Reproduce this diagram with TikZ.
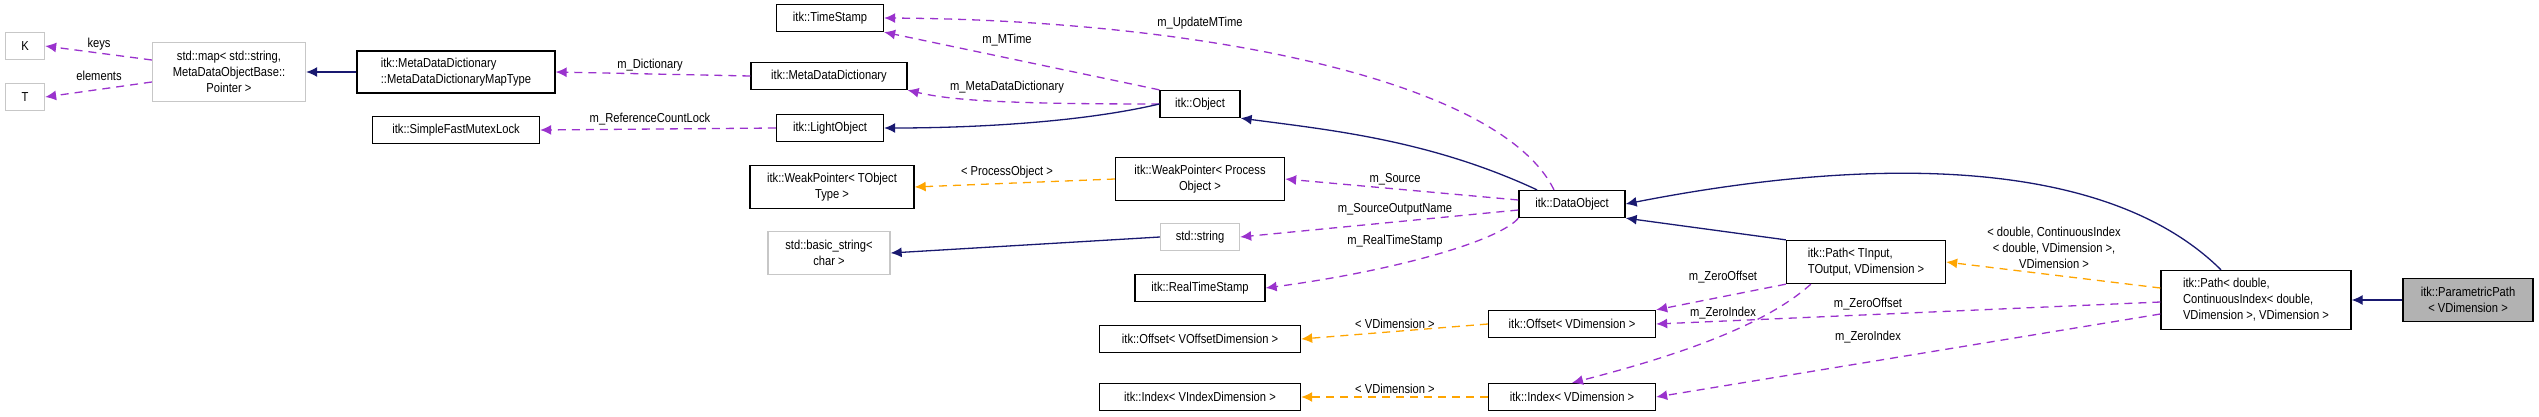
\documentclass[tikz,border=0pt]{standalone}
\usepackage{fontspec}
\setmainfont{Liberation Sans}[FakeStretch=0.86]
\usetikzlibrary{arrows.meta}
\definecolor{navy}{HTML}{191970}
\definecolor{memb}{HTML}{9A32CD}
\definecolor{tmpl}{HTML}{FFA500}
\tikzstyle{cls}=[rectangle, draw=black, line width=1.3pt, fill=white, inner sep=2pt, align=center, font=\fontsize{13}{16}\selectfont, minimum height=27pt]
\tikzstyle{ext}=[cls, draw=black!22]
\tikzstyle{lbl}=[inner sep=0pt, align=center, font=\fontsize{13}{16}\selectfont]
\tikzstyle{inh}=[draw=navy, line width=1.3pt, -{Latex[length=11pt,width=10pt]}]
\tikzstyle{use}=[draw=memb, line width=1.3pt, dashed, dash pattern=on 8pt off 6pt, -{Latex[length=11pt,width=10pt]}]
\tikzstyle{tpl}=[use, draw=tmpl]
\begin{document}
\begin{tikzpicture}[x=1pt, y=-1pt]
	\useasboundingbox (0,0) rectangle (2539,416);

	%The leftmost classes
	\draw (25,46) node[ext, minimum width=39pt] (k) {K};
	\draw (25,97) node[ext, minimum width=39pt] (t) {T};
	\draw (229,72) node[ext, minimum width=153pt, minimum height=59pt] (map) {std::map< std::string,\\ MetaDataObjectBase::\\ Pointer >};
	\draw (456,72) node[cls, minimum width=198pt, minimum height=42pt, align=left] (maptype) {itk::MetaDataDictionary\\ ::MetaDataDictionaryMapType};
	\draw (456,130) node[cls, minimum width=167pt] (mutex) {itk::SimpleFastMutexLock};

	%The second column
	\draw (830,18) node[cls, minimum width=107pt] (stamp) {itk::TimeStamp};
	\draw (829,76) node[cls, minimum width=156pt] (dict) {itk::MetaDataDictionary};
	\draw (830,128) node[cls, minimum width=107pt] (light) {itk::LightObject};
	\draw (832,187) node[cls, minimum width=164pt, minimum height=43pt] (wptr) {itk::WeakPointer< TObject\\ Type >};
	\draw (829,253) node[ext, minimum width=122pt, minimum height=43pt] (bstr) {std::basic\_string<\\ char >};

	%The third column
	\draw (1200,104) node[cls, minimum width=80pt] (obj) {itk::Object};
	\draw (1200,179) node[cls, minimum width=169pt, minimum height=43pt] (wproc) {itk::WeakPointer< Process\\ Object >};
	\draw (1200,237) node[ext, minimum width=79pt] (str) {std::string};
	\draw (1200,288) node[cls, minimum width=130pt] (rstamp) {itk::RealTimeStamp};
	\draw (1200,339) node[cls, minimum width=201pt] (offn) {itk::Offset< VOffsetDimension >};
	\draw (1200,397) node[cls, minimum width=201pt] (idxn) {itk::Index< VIndexDimension >};

	%The fourth column
	\draw (1572,204) node[cls, minimum width=106pt] (data) {itk::DataObject};
	\draw (1572,324) node[cls, minimum width=167pt] (off) {itk::Offset< VDimension >};
	\draw (1572,397) node[cls, minimum width=167pt] (idx) {itk::Index< VDimension >};

	%The paths
	\draw (1866,262) node[cls, minimum width=159pt, minimum height=43pt, align=left] (tpath) {itk::Path< TInput,\\ TOutput, VDimension >};
	\draw (2256,300) node[cls, minimum width=190pt, minimum height=59pt, align=left] (dpath) {itk::Path< double,\\ ContinuousIndex< double,\\ VDimension >, VDimension >};
	\draw (2468,300) node[cls, fill=black!30, minimum width=130pt, minimum height=43pt] (ppath) {itk::ParametricPath\\ < VDimension >};

	%The edges
	\draw[use] (map.west |- 0,60) -- (k.east);
	\draw[use] (map.west |- 0,82) -- (t.east);
	\draw[inh] (maptype) -- (map);
	\draw[use] (dict.west) -- (maptype.east);
	\draw[use] (light.west) -- (mutex.east);
	\draw[use] (obj.north west) -- (stamp.south east);
	\draw[use] (obj.west) .. controls (1000,104) and (950,100) .. (dict.south east);
	\draw[inh] (obj.west) .. controls (1070,125) and (950,128) .. (light.east);
	\draw[use] (data.north) ++(-18,0) coordinate (d1) .. controls (1500,80) and (1200,20) .. (stamp.east);
	\draw[inh] (data.north) ++(-35,0) coordinate (d2) .. controls (1430,140) and (1330,130) .. (obj.south east);
	\draw[use] (data.west) ++(0,-4) coordinate (d3) -- (wproc.east);
	\draw[use] (data.west) ++(0,6) coordinate (d4) -- (str.east);
	\draw[use] (data.south west) .. controls (1500,240) and (1400,270) .. (rstamp.east);
	\draw[tpl] (wproc.west) -- (wptr.east);
	\draw[inh] (str.west) -- (bstr.east);
	\draw[tpl] (off.west) -- (offn.east);
	\draw[tpl] (idx.west) -- (idxn.east);
	\draw[inh] (tpath.north west) -- (data.south east);
	\draw[use] (tpath.south west) -- (off.north east);
	\draw[use] (tpath.south west) ++(25,0) coordinate (t1) .. controls (1760,330) and (1660,360) .. (idx.north);
	\draw[inh] (dpath.north) ++(-35,0) coordinate (p1) .. controls (2100,150) and (1850,160) .. (data.east);
	\draw[tpl] (dpath.west) ++(0,-12) coordinate (p2) -- (tpath.east);
	\draw[use] (dpath.west) ++(0,2) coordinate (p3) -- (off.east);
	\draw[use] (dpath.west) ++(0,14) coordinate (p4) -- (idx.east);
	\draw[inh] (ppath) -- (dpath);

	%The labels
	\node[lbl] (l-keys) at (99,44) {keys};
	\node[lbl] (l-elem) at (99,76) {elements};
	\node[lbl] (l-dict) at (650,65) {m\_Dictionary};
	\node[lbl] (l-lock) at (650,119) {m\_ReferenceCountLock};
	\node[lbl] (l-umt) at (1200,23) {m\_UpdateMTime};
	\node[lbl] (l-mt) at (1007,40) {m\_MTime};
	\node[lbl] (l-mdd) at (1007,87) {m\_MetaDataDictionary};
	\node[lbl] (l-po) at (1007,172) {< ProcessObject >};
	\node[lbl] (l-src) at (1395,179) {m\_Source};
	\node[lbl] (l-son) at (1395,209) {m\_SourceOutputName};
	\node[lbl] (l-rts) at (1395,241) {m\_RealTimeStamp};
	\node[lbl] (l-vd1) at (1395,324) {< VDimension >};
	\node[lbl] (l-vd2) at (1395,389) {< VDimension >};
	\node[lbl] (l-ci) at (2054,248) {< double, ContinuousIndex\\ < double, VDimension >,\\ VDimension >};
	\node[lbl] (l-zo1) at (1723,277) {m\_ZeroOffset};
	\node[lbl] (l-zi1) at (1723,313) {m\_ZeroIndex};
	\node[lbl] (l-zo2) at (1868,304) {m\_ZeroOffset};
	\node[lbl] (l-zi2) at (1868,337) {m\_ZeroIndex};
\end{tikzpicture}
\end{document}
